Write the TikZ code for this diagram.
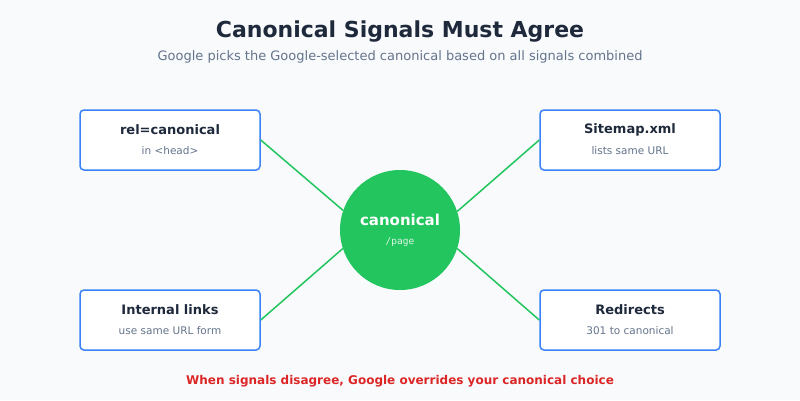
\documentclass[tikz,border=0pt]{standalone}
\usepackage{fontspec}
\setmainfont{DejaVu Sans}
\setmonofont{DejaVu Sans Mono}
\definecolor{bg}{HTML}{F8FAFC}
\definecolor{ink}{HTML}{1E293B}
\definecolor{mute}{HTML}{64748B}
\definecolor{blu}{HTML}{3B82F6}
\definecolor{grn}{HTML}{22C55E}
\definecolor{rd}{HTML}{DC2626}
\begin{document}
\begin{tikzpicture}[x=1pt,y=-1pt,
  card/.style={draw=blu,line width=1.5pt,fill=white,rounded corners=4pt,minimum width=180pt,minimum height=60pt},
  ttl/.style={font=\bfseries\fontsize{13}{15}\selectfont,text=ink},
  sub/.style={font=\fontsize{10.5}{12}\selectfont,text=mute},
  link/.style={draw=grn,line width=1.5pt}]
\fill[bg] (0,0) rectangle (800,400);
\useasboundingbox (0,0) rectangle (800,400);
\node[font=\bfseries\fontsize{22}{26}\selectfont,text=ink] (title) at (400,32) {Canonical Signals Must Agree};
\node[font=\fontsize{13}{15}\selectfont,text=mute] (subtitle) at (400,57) {Google picks the Google-selected canonical based on all signals combined};
\node[card] (a) at (170,140) {};
\node[ttl] (at) at (170,130) {rel=canonical};
\node[sub] (as) at (170,151) {in <head>};
\node[card] (b) at (630,140) {};
\node[ttl] (bt) at (630,130) {Sitemap.xml};
\node[sub] (bs) at (630,151) {lists same URL};
\node[card] (c) at (170,320) {};
\node[ttl] (ct) at (170,310) {Internal links};
\node[sub] (cs) at (170,331) {use same URL form};
\node[card] (d) at (630,320) {};
\node[ttl] (dt) at (630,310) {Redirects};
\node[sub] (ds) at (630,331) {301 to canonical};
\node[circle,fill=grn,minimum size=120pt,inner sep=0pt] (m) at (400,230) {};
\node[font=\bfseries\fontsize{15}{18}\selectfont,text=white] (mt) at (400,220) {canonical};
\node[font=\ttfamily\fontsize{9.5}{11}\selectfont,text=white!85!grn] (ms) at (400,242) {/page};
\draw[link] (a.east) -- (m.161.6);
\draw[link] (b.west) -- (m.18.4);
\draw[link] (c.east) -- (m.198.4);
\draw[link] (d.west) -- (m.-18.4);
\node[font=\bfseries\fontsize{12}{14}\selectfont,text=rd] (warn) at (400,381) {When signals disagree, Google overrides your canonical choice};
\end{tikzpicture}
\end{document}
